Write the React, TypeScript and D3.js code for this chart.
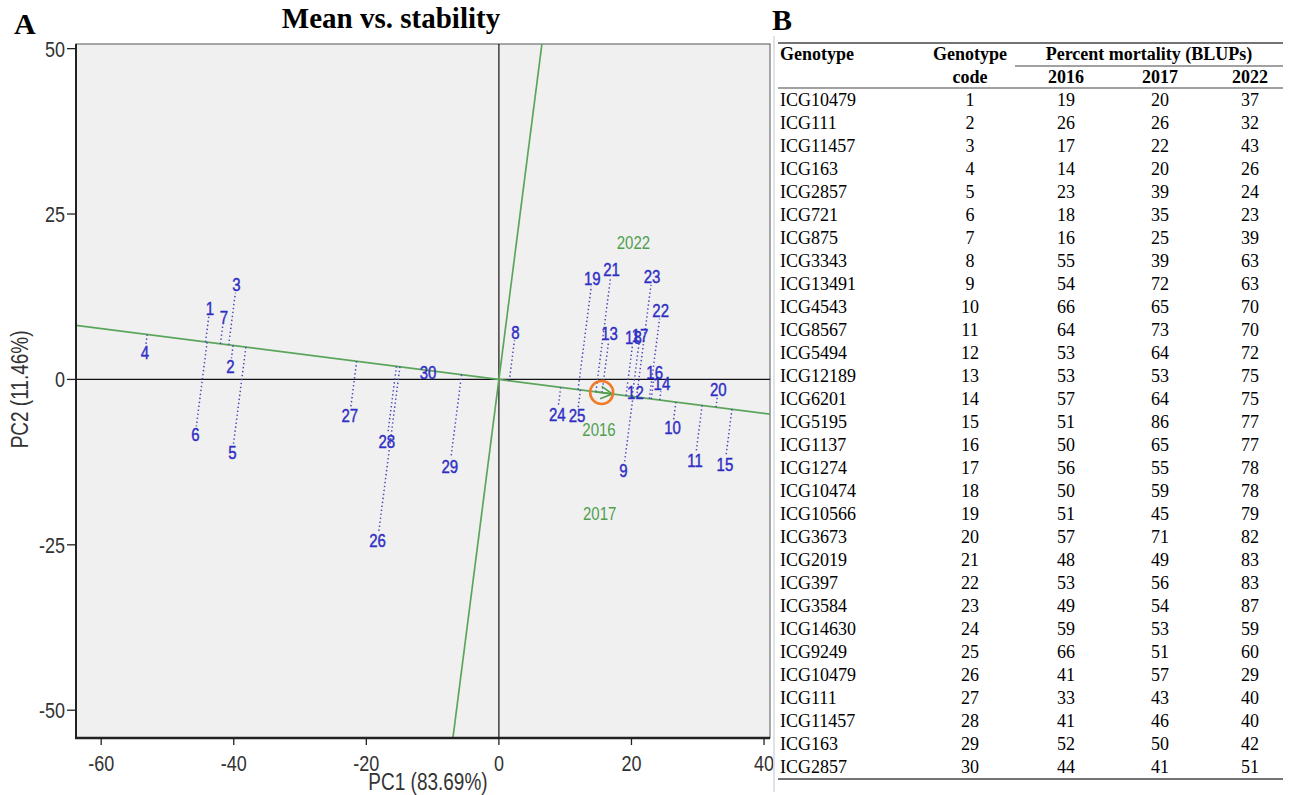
import React from 'react';
import * as d3 from 'd3';

// genotype scores (label positions)
const codes = [1, 2, 3, 4, 5, 6, 7, 8, 9, 10, 11, 12, 13, 14, 15, 16, 17, 18, 19, 20, 21, 22, 23, 24, 25, 26, 27, 28, 29, 30];
const pc1 = [-43.6, -40.5, -39.6, -53.4, -40.2, -45.8, -41.5, 2.5, 18.8, 26.2, 29.6, 20.6, 16.7, 24.6, 34.1, 23.5, 21.3, 20.3, 14.1, 33.1, 17.0, 24.4, 23.1, 8.8, 11.8, -18.3, -22.5, -16.9, -7.4, -10.7];
const pc2 = [10.8, 2.0, 14.3, 4.1, -11.0, -8.3, 9.4, 7.1, -13.8, -7.3, -12.2, -1.9, 6.9, -0.6, -12.8, 1.1, 6.7, 6.3, 15.3, -1.5, 16.6, 10.4, 15.5, -5.3, -5.5, -24.4, -5.4, -9.3, -13.1, 1.0];

const envNames = ['2016', '2017', '2022'];
const envX = [15.1, 15.2, 20.3];
const envY = [-7.6, -20.3, 20.7];

const aeaSlope = -0.128;
const avgEnv = [15.5, -1.98];

const xTicks = [-60, -40, -20, 0, 20, 40];
const yTicks = [-50, -25, 0, 25, 50];

// table B
const genotypes = ['ICG10479', 'ICG111', 'ICG11457', 'ICG163', 'ICG2857', 'ICG721', 'ICG875', 'ICG3343', 'ICG13491', 'ICG4543',
  'ICG8567', 'ICG5494', 'ICG12189', 'ICG6201', 'ICG5195', 'ICG1137', 'ICG1274', 'ICG10474', 'ICG10566', 'ICG3673',
  'ICG2019', 'ICG397', 'ICG3584', 'ICG14630', 'ICG9249', 'ICG10479', 'ICG111', 'ICG11457', 'ICG163', 'ICG2857'];
const mort2016 = [19, 26, 17, 14, 23, 18, 16, 55, 54, 66, 64, 53, 53, 57, 51, 50, 56, 50, 51, 57, 48, 53, 49, 59, 66, 41, 33, 41, 52, 44];
const mort2017 = [20, 26, 22, 20, 39, 35, 25, 39, 72, 65, 73, 64, 53, 64, 86, 65, 55, 59, 45, 71, 49, 56, 54, 53, 51, 57, 43, 46, 50, 41];
const mort2022 = [37, 32, 43, 26, 24, 23, 39, 63, 63, 70, 70, 72, 75, 75, 77, 77, 78, 78, 79, 82, 83, 83, 87, 59, 60, 29, 40, 40, 42, 51];

const SANS = 'Liberation Sans, Arial, sans-serif';
const SERIF = 'Liberation Serif, Times New Roman, serif';
const STRETCH = 1.25;

function StretchText(props: any) {
  const { x, y, children, anchor = 'middle', size = 14, fill = '#333', rotate = 0, stroke } = props;
  return (
    <text
      transform={`translate(${x},${y}) rotate(${rotate}) scale(1,${STRETCH})`}
      textAnchor={anchor}
      dy="0.35em"
      fontFamily={SANS}
      fontSize={size}
      fill={fill}
      stroke={stroke}
      strokeWidth={stroke ? 0.35 : undefined}
    >
      {children}
    </text>
  );
}

function Biplot() {
  const x = d3.scaleLinear().domain([-63.8, 40.9]).range([76, 770]);
  const y = d3.scaleLinear().domain([-54.2, 50.7]).range([738, 44]);
  const [x0, x1] = x.domain();
  const [y0, y1] = y.domain();
  const k = aeaSlope;

  const aea = d3.line<number>().x(d => x(d)).y(d => y(k * d));
  const atc = d3.line<number>().x(d => x(-k * d)).y(d => y(d));

  const proj = codes.map((c, i) => {
    const t = (pc1[i] + k * pc2[i]) / (1 + k * k);
    const ax = x(t), ay = y(k * t);
    const px = x(pc1[i]), py = y(pc2[i]);
    const len = Math.hypot(px - ax, py - ay);
    const trim = 8;
    if (len <= trim + 2) return null;
    const f = (len - trim) / len;
    return { ax, ay, bx: ax + (px - ax) * f, by: ay + (py - ay) * f };
  });

  // arrow on the average-environment axis
  const tipX = x(avgEnv[0] + 1.6), tipY = y(k * (avgEnv[0] + 1.6));
  const tailX = x(avgEnv[0] - 1.0), tailY = y(k * (avgEnv[0] - 1.0));
  const ang = Math.atan2(tipY - tailY, tipX - tailX);
  const arm = 13, spread = 0.5;
  const arms = [ang + Math.PI - spread, ang + Math.PI + spread].map(a => [tipX + arm * Math.cos(a), tipY + arm * Math.sin(a)]);

  return (
    <g>
      <defs>
        <clipPath id="plotClip">
          <rect x={x(x0)} y={y(y1)} width={x(x1) - x(x0)} height={y(y0) - y(y1)} />
        </clipPath>
      </defs>
      <rect x={x(x0)} y={y(y1)} width={x(x1) - x(x0)} height={y(y0) - y(y1)} fill="#f0f0f0" stroke="#555" strokeWidth={1} />

      <g clipPath="url(#plotClip)">
        <line x1={x(x0)} x2={x(x1)} y1={y(0)} y2={y(0)} stroke="#111" strokeWidth={1.2} />
        <line x1={x(0)} x2={x(0)} y1={y(y0)} y2={y(y1)} stroke="#111" strokeWidth={1.2} />
        <path d={aea([x0, x1]) || ''} stroke="#5ba55b" strokeWidth={1.7} fill="none" />
        <path d={atc([y0, y1]) || ''} stroke="#5ba55b" strokeWidth={1.7} fill="none" />

        {proj.map((p, i) => p && (
          <line key={'p' + i} x1={p.ax} y1={p.ay} x2={p.bx} y2={p.by}
            stroke="#4848b8" strokeWidth={1.5} strokeDasharray="1.4 2.6" />
        ))}

        <line x1={tailX} y1={tailY} x2={tipX} y2={tipY} stroke="#4e9e4e" strokeWidth={1.6} />
        {arms.map((a, i) => (
          <line key={'a' + i} x1={a[0]} y1={a[1]} x2={tipX} y2={tipY} stroke="#4e9e4e" strokeWidth={1.6} />
        ))}
        <circle cx={x(avgEnv[0])} cy={y(avgEnv[1])} r={11.5} fill="none" stroke="#f07a28" strokeWidth={2.6} />

        {envNames.map((e, i) => (
          <StretchText key={e} x={x(envX[i])} y={y(envY[i])} size={15} fill="#4f9f4f">{e}</StretchText>
        ))}
        {codes.map((c, i) => (
          <StretchText key={'g' + c} x={x(pc1[i])} y={y(pc2[i])} size={15} fill="#2e2ec4" stroke="#2e2ec4">{c}</StretchText>
        ))}
      </g>

      {/* heavier left / bottom frame */}
      <line x1={x(x0)} x2={x(x0)} y1={y(y1)} y2={y(y0) + 1} stroke="#222" strokeWidth={2} />
      <line x1={x(x0) - 1} x2={x(x1)} y1={y(y0)} y2={y(y0)} stroke="#222" strokeWidth={2.5} />

      {xTicks.map(t => (
        <g key={'xt' + t}>
          <line x1={x(t)} x2={x(t)} y1={y(y0)} y2={y(y0) + 7} stroke="#222" strokeWidth={1.3} />
          <StretchText x={x(t)} y={y(y0) + 25} size={18}>{t}</StretchText>
        </g>
      ))}
      {yTicks.map(t => (
        <g key={'yt' + t}>
          <line x1={x(x0) - 9} x2={x(x0)} y1={y(t)} y2={y(t)} stroke="#222" strokeWidth={1.3} />
          <StretchText x={x(x0) - 11} y={y(t)} size={18} anchor="end">{t}</StretchText>
        </g>
      ))}

      <StretchText x={(x(x0) + x(x1)) / 2 + 5} y={782} size={19}>PC1 (83.69%)</StretchText>
      <StretchText x={20} y={y(0) + 10} size={19} rotate={-90}>PC2 (11.46%)</StretchText>

      <text x={391} y={28} textAnchor="middle" fontFamily={SERIF} fontWeight="bold" fontSize={29} fill="#000">Mean vs. stability</text>
      <text x={14} y={34} fontFamily={SERIF} fontWeight="bold" fontSize={30} fill="#000">A</text>
    </g>
  );
}

function MortalityTable() {
  const left = 778, right = 1283;
  const rowY = d3.scaleLinear().domain([0, genotypes.length - 1]).range([100, 767]);
  const cols = [970, 1066, 1160, 1250];
  const rule = '#444';
  return (
    <g fontFamily={SERIF} fontSize={18} fill="#000">
      <line x1={774} x2={774} y1={36} y2={792} stroke="#d4d8e0" strokeWidth={1.5} />
      <text x={772} y={30} fontWeight="bold" fontSize={30}>B</text>

      <line x1={left} x2={right} y1={43} y2={43} stroke={rule} strokeWidth={1.5} />
      <line x1={1015} x2={right} y1={66} y2={66} stroke={rule} strokeWidth={1.2} />
      <line x1={left} x2={right} y1={88} y2={88} stroke={rule} strokeWidth={1.2} />
      <line x1={left} x2={right} y1={779} y2={779} stroke={rule} strokeWidth={1.5} />

      <g fontWeight="bold">
        <text x={780} y={60}>Genotype</text>
        <text x={cols[0]} y={60} textAnchor="middle">Genotype</text>
        <text x={cols[0]} y={83} textAnchor="middle">code</text>
        <text x={1149} y={60} textAnchor="middle">Percent mortality (BLUPs)</text>
        <text x={cols[1]} y={83} textAnchor="middle">2016</text>
        <text x={cols[2]} y={83} textAnchor="middle">2017</text>
        <text x={cols[3]} y={83} textAnchor="middle">2022</text>
      </g>

      {genotypes.map((g, i) => {
        const ry = rowY(i);
        return (
          <g key={'r' + i}>
            <text x={780} y={ry} dy="0.35em">{g}</text>
            <text x={cols[0]} y={ry} dy="0.35em" textAnchor="middle">{codes[i]}</text>
            <text x={cols[1]} y={ry} dy="0.35em" textAnchor="middle">{mort2016[i]}</text>
            <text x={cols[2]} y={ry} dy="0.35em" textAnchor="middle">{mort2017[i]}</text>
            <text x={cols[3]} y={ry} dy="0.35em" textAnchor="middle">{mort2022[i]}</text>
          </g>
        );
      })}
    </g>
  );
}

export default function App() {
  return (
    <svg width={1295} height={795} style={{ position: 'absolute', left: 0, top: 0, background: '#fff' }}>
      <Biplot />
      <MortalityTable />
    </svg>
  );
}
